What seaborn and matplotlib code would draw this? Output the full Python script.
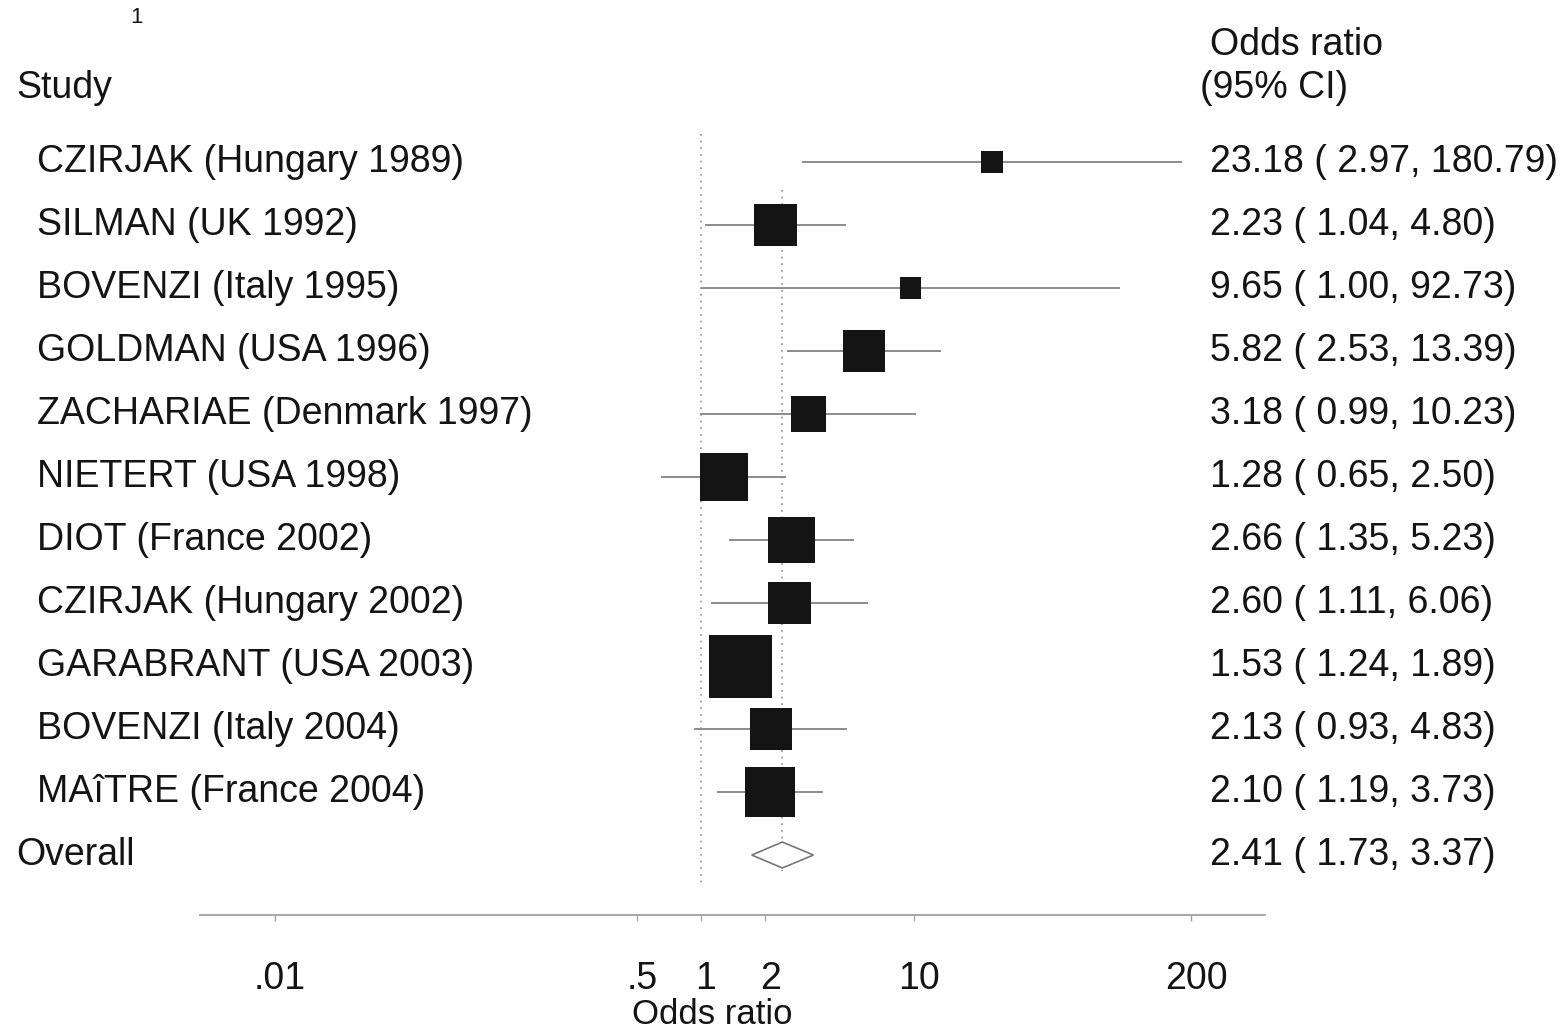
import matplotlib
matplotlib.use("Agg")
import matplotlib.pyplot as plt
import matplotlib.transforms as mtransforms
from matplotlib.patches import Polygon
import seaborn as sns
import pandas as pd

# Study-level odds ratios with 95% confidence limits
studies = [
    "CZIRJAK (Hungary 1989)",
    "SILMAN (UK 1992)",
    "BOVENZI (Italy 1995)",
    "GOLDMAN (USA 1996)",
    "ZACHARIAE (Denmark 1997)",
    "NIETERT (USA 1998)",
    "DIOT (France 2002)",
    "CZIRJAK (Hungary 2002)",
    "GARABRANT (USA 2003)",
    "BOVENZI (Italy 2004)",
    "MAîTRE (France 2004)",
]
odds_ratio = [23.18, 2.23, 9.65, 5.82, 3.18, 1.28, 2.66, 2.60, 1.53, 2.13, 2.10]
ci_low = [2.97, 1.04, 1.00, 2.53, 0.99, 0.65, 1.35, 1.11, 1.24, 0.93, 1.19]
ci_high = [180.79, 4.80, 92.73, 13.39, 10.23, 2.50, 5.23, 6.06, 1.89, 4.83, 3.73]
# percentage weight of each study (box area)
weight = [2.4, 9.0, 2.2, 8.6, 6.0, 11.3, 10.8, 9.0, 19.4, 9.0, 12.3]

overall_label = "Overall"
overall_or = 2.41
overall_low = 1.73
overall_high = 3.37

tick_values = [0.01, 0.5, 1, 2, 10, 200]
tick_labels = [".01", ".5", "1", "2", "10", "200"]
x_range = (0.00445, 444)

df = pd.DataFrame({
    "study": studies,
    "or": odds_ratio,
    "lo": ci_low,
    "hi": ci_high,
    "weight": weight,
})
df["row"] = range(len(df))
overall_row = len(df)

sns.set_theme(style="white")
plt.rcParams["font.family"] = ["Liberation Sans", "DejaVu Sans"]

FS = 27
INK = "#141414"
LINE = "#8c8c8c"

fig = plt.figure(figsize=(15.67, 10.35), dpi=100)
fig.patch.set_facecolor("white")
ax = fig.add_axes([200 / 1567, 1 - 915 / 1035, 1065 / 1567, 915 / 1035])
ax.set_facecolor("white")
ax.set_xscale("log")
ax.set_xlim(*x_range)
ax.set_ylim(11.952, -2.571)

# reference lines: null effect and pooled estimate
ax.vlines(1, -0.45, overall_row + 0.45, colors=LINE, linestyles=(0, (1, 3)), lw=1.2)
ax.vlines(overall_or, 0.45, overall_row + 0.25, colors=LINE, linestyles=(0, (1, 3)), lw=1.2)

# confidence intervals
ax.hlines(df["row"], df["lo"], df["hi"], colors=LINE, lw=1.4, zorder=2)

# weighted boxes
sns.scatterplot(data=df, x="or", y="row", marker="s", s=df["weight"] * 106,
                color=INK, linewidth=0, legend=False, ax=ax, zorder=3)

# pooled estimate diamond
h = 0.206
diamond = Polygon([(overall_low, overall_row), (overall_or, overall_row - h),
                   (overall_high, overall_row), (overall_or, overall_row + h)],
                  closed=True, facecolor="white", edgecolor="#777777", lw=1.2, zorder=3)
ax.add_patch(diamond)

# axis styling
for side in ["top", "left", "right"]:
    ax.spines[side].set_visible(False)
ax.spines["bottom"].set_color("#a0a0a0")
ax.spines["bottom"].set_linewidth(1.3)
ax.set_xticks(tick_values)
ax.set_xticklabels(tick_labels)
ax.xaxis.set_minor_locator(matplotlib.ticker.NullLocator())
ax.tick_params(axis="x", which="major", length=4, width=1, color="#a0a0a0",
               pad=29, labelsize=FS, labelcolor=INK, bottom=True)
shift = mtransforms.ScaledTranslation(5 / 100, 0, fig.dpi_scale_trans)
for lab in ax.get_xticklabels():
    lab.set_transform(lab.get_transform() + shift)
ax.set_yticks([])
ax.set_ylabel("")
ax.set_xlabel("Odds ratio", fontsize=25, color=INK, va="center")
ax.xaxis.set_label_coords((712 - 200) / 1065, -(1015 - 915) / 915)

# text columns: x in figure fraction, y in row units
tr = mtransforms.blended_transform_factory(fig.transFigure, ax.transData)
for _, r in df.iterrows():
    ax.text(37 / 1567, r["row"], r["study"], transform=tr, fontsize=FS,
            color=INK, ha="left", va="center")
    ax.text(1210 / 1567, r["row"],
            f"{r['or']:.2f} ( {r['lo']:.2f}, {r['hi']:.2f})",
            transform=tr, fontsize=FS, color=INK, ha="left", va="center")

ax.text(16 / 1567, overall_row, overall_label, transform=tr, fontsize=FS,
        color=INK, ha="left", va="center")
ax.text(1210 / 1567, overall_row,
        f"{overall_or:.2f} ( {overall_low:.2f}, {overall_high:.2f})",
        transform=tr, fontsize=FS, color=INK, ha="left", va="center")

# column headers
ax.text(16 / 1567, (88 - 162) / 63, "Study", transform=tr, fontsize=FS,
        color=INK, ha="left", va="center")
ax.text(1210 / 1567, (45 - 162) / 63, "Odds ratio", transform=tr, fontsize=FS,
        color=INK, ha="left", va="center")
ax.text(1200 / 1567, (88 - 162) / 63, "(95% CI)", transform=tr, fontsize=FS,
        color=INK, ha="left", va="center")
ax.text(136 / 1567, (18 - 162) / 63, "1", transform=tr, fontsize=16,
        color=INK, ha="center", va="center")

fig.savefig("out.png", dpi=100, facecolor="white")
